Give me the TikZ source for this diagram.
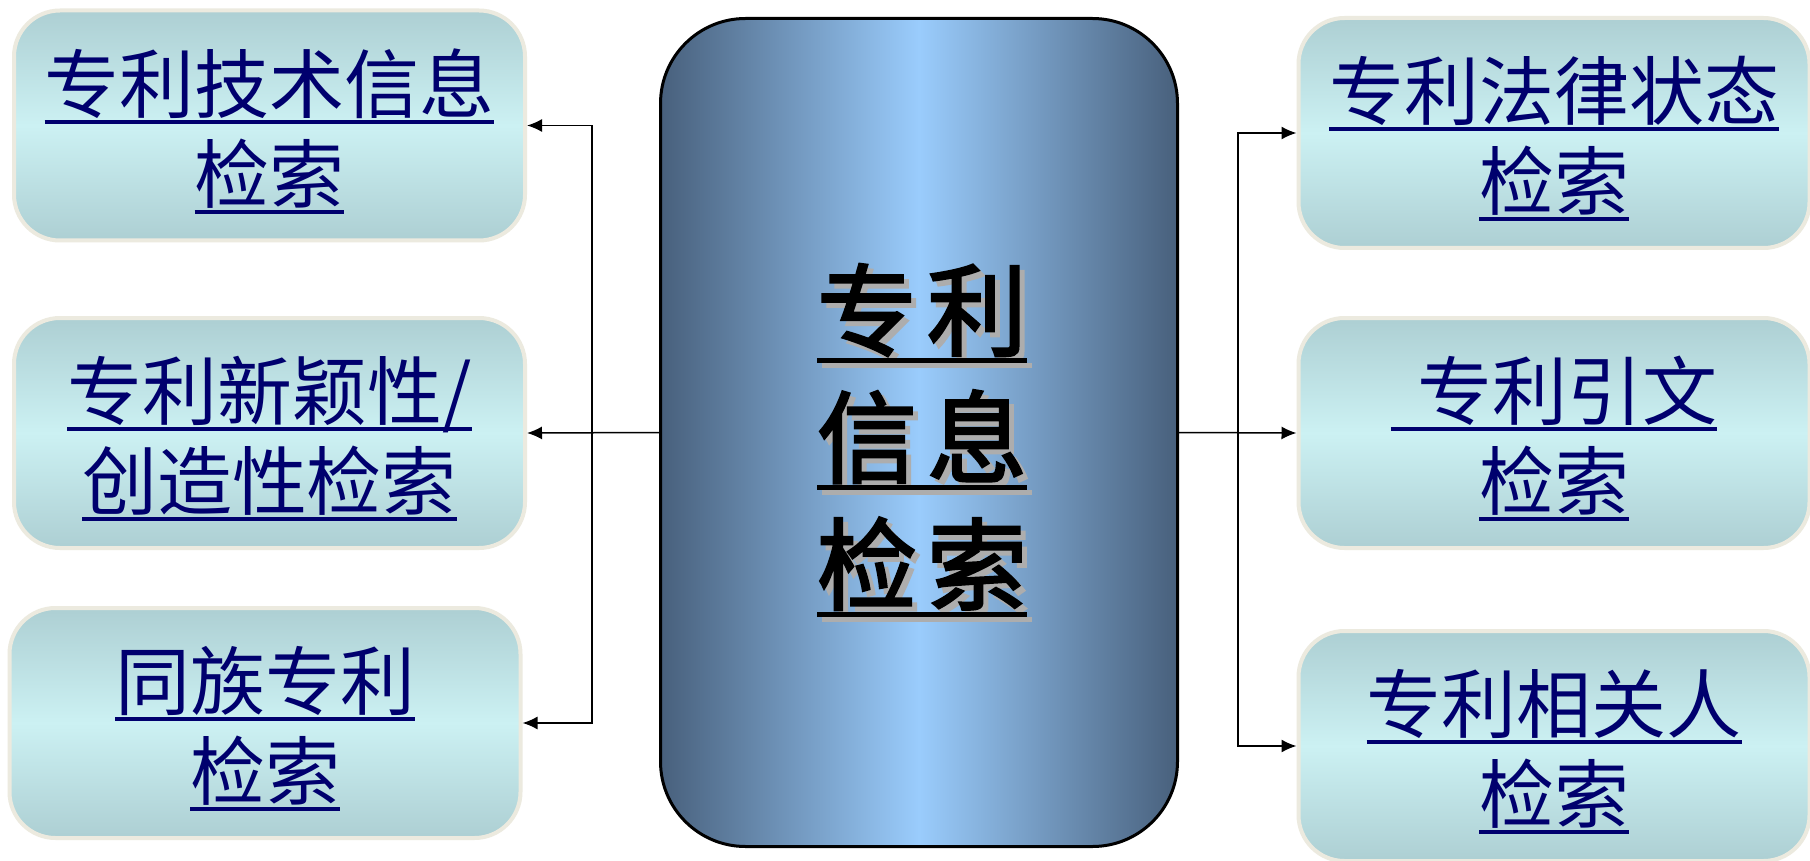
\documentclass[tikz,border=0pt]{standalone}
\usepackage{fontspec}
\setmainfont{Noto Sans CJK SC}
\newfontfamily\centerfont[FakeBold=2.5]{Noto Sans CJK SC}
\usetikzlibrary{arrows.meta}
\definecolor{navytext}{RGB}{0,0,110}
\definecolor{boxdark}{HTML}{ADCFD3}
\definecolor{boxlight}{HTML}{CCF1F3}
\definecolor{boxedge}{HTML}{ECEADF}
\definecolor{cdark}{HTML}{48607C}
\definecolor{clight}{HTML}{9ACCFC}
\newcommand\myul[1]{\setbox0\hbox{#1}\rlap{\rule[-0.15em]{\wd0}{0.05em}}\box0}
\newcommand\shd[1]{\rlap{\kern5pt\raisebox{-5pt}{\color{black!32}#1}}#1}
\tikzset{
  sidebox/.style={draw=boxedge, line width=4pt, rounded corners=46pt,
    top color=boxdark, bottom color=boxdark, middle color=boxlight,
    minimum width=511pt, minimum height=230pt, inner sep=0pt, text depth=-3pt,
    text=navytext, align=center, font=\fontsize{75}{90}\selectfont},
  centerbox/.style={draw=black, line width=3pt, rounded corners=85pt,
    left color=cdark, right color=cdark, middle color=clight,
    minimum width=517pt, minimum height=828pt, inner sep=0pt},
  centertext/.style={align=center, inner sep=0pt,
    font=\centerfont\fontsize{100}{127}\selectfont},
  conn/.style={line width=1.5pt, draw=black},
  arr/.style={conn, -{Latex[length=15pt,width=13pt]}}
}
\begin{document}
\begin{tikzpicture}[x=1pt,y=-1pt]
\clip (0,0) rectangle (1810,861);
\fill[white] (0,0) rectangle (1810,861);
% side boxes
\node[sidebox] (L1) at (269.5,125.5) {\myul{专利技术信息}\\\myul{检索}};
\node[sidebox] (L2) at (269.5,433) {\myul{专利新颖性/}\\\myul{创造性检索}};
\node[sidebox] (L3) at (265,723) {\myul{同族专利}\\\myul{检索}};
\node[sidebox] (R1) at (1554,133) {\myul{专利法律状态}\\\myul{检索}};
\node[sidebox] (R2) at (1554,433) {\myul{\hspace{0.35em}专利引文}\\\myul{检索}};
\node[sidebox] (R3) at (1554,746) {\myul{专利相关人}\\\myul{检索}};
% center box
\node[centerbox] (C) at (919,432.5) {};
\node[centertext, text=black] (Ct) at (922,443) {\shd{\myul{专\hspace{0.1em}利}}\\\shd{\myul{信\hspace{0.1em}息}}\\\shd{\myul{检\hspace{0.1em}索}}};
% connectors
\coordinate (jl) at (592,433);
\coordinate (jr) at (1238,433);
\draw[arr] (C.west) -- (L2.east);
\draw[arr] (jl) |- (L1.east);
\draw[arr] (jl) |- (L3.east);
\draw[arr] (C.east) -- (R2.west);
\draw[arr] (jr) |- (R1.west);
\draw[arr] (jr) |- (R3.west);
\end{tikzpicture}
\end{document}
